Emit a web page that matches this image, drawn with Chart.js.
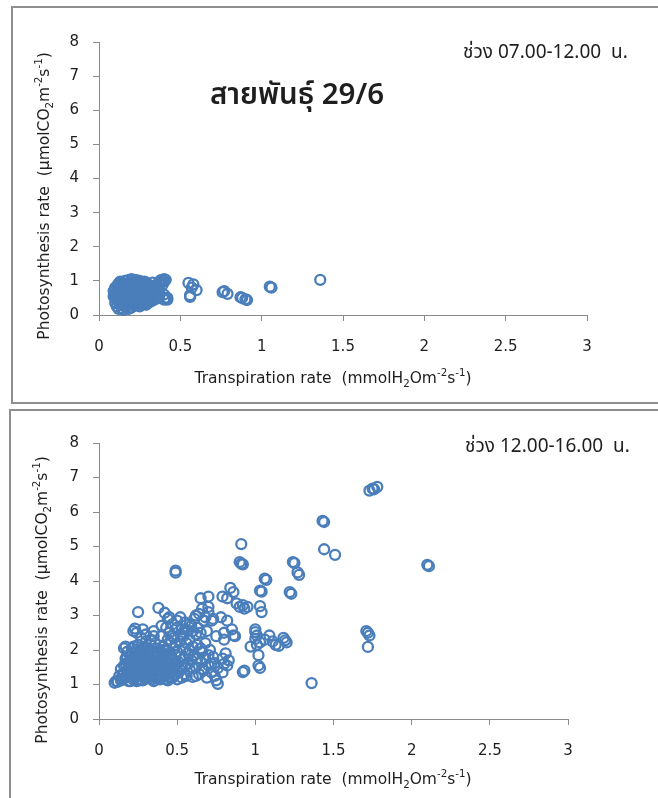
<!DOCTYPE html>
<html>
<head>
<meta charset="utf-8">
<script src="https://cdn.jsdelivr.net/npm/chart.js@4/dist/chart.umd.min.js"></script>
<style>
  html, body { margin: 0; padding: 0; background: #fff; }
  body { width: 658px; height: 798px; position: relative; overflow: hidden; }
  .frame { position: absolute; border: 2px solid #8e8e8e; box-sizing: border-box; }
  #frameTop { left: 11px; top: 6px; width: 700px; height: 398px; }
  #frameBottom { left: 9px; top: 409px; width: 700px; height: 420px; }
  canvas { position: absolute; left: 0; }
  #morning { top: 0; }
  #afternoon { top: 400px; }
</style>
</head>
<body>
<div class="frame" id="frameTop"></div>
<div class="frame" id="frameBottom"></div>
<canvas id="morning" width="658" height="400"></canvas>
<canvas id="afternoon" width="658" height="398"></canvas>
<script>
// Line 29/6 gas-exchange readings
// 07.00-12.00 : transpiration (mmol H2O m-2 s-1) and photosynthesis (umol CO2 m-2 s-1)
const morningTransp = [
  0.10,0.10,0.11,0.11,0.11,0.12,0.12,0.12,0.13,0.13,0.13,0.14,0.14,0.14,0.14,
  0.15,0.15,0.15,0.15,0.16,0.16,0.16,0.16,0.17,0.17,0.17,0.18,0.18,0.18,0.18,
  0.19,0.19,0.19,0.19,0.20,0.20,0.20,0.20,0.21,0.21,0.21,0.22,0.22,0.22,0.23,
  0.23,0.23,0.24,0.24,0.24,0.25,0.25,0.25,0.26,0.26,0.26,0.27,0.27,0.28,0.28,
  0.28,0.29,0.29,0.30,0.30,0.31,0.31,0.32,0.32,0.33,0.33,0.34,0.34,0.35,0.35,
  0.36,0.37,0.38,0.39,0.40,0.41,0.40,0.41,0.42,0.39,
  0.55,0.56,0.57,0.58,0.60,0.56,0.76,0.77,0.79,0.87,0.88,0.91,0.90,1.05,1.06,1.36,
  0.09,0.09,0.10,0.10,0.11,0.12,0.12,0.13,0.13,0.14,0.15,0.15,0.16,0.16,0.17,
  0.17,0.18,0.18,0.19,0.19,0.20,0.20,0.21,0.21,0.22,0.22,0.23,0.23,0.24,0.24,
  0.25,0.25,0.26,0.26,0.27,0.27,0.28,0.28,0.29,0.29,0.30,0.30,0.31,0.31,0.32,
  0.32,0.33,0.34,0.35,0.36,0.37,0.37,0.38,0.40,0.41,0.42,0.40
];
const morningPhoto = [
  0.62,0.48,0.85,0.55,0.70,0.40,0.92,0.63,0.30,0.78,0.52,0.20,0.95,0.66,0.44,
  0.15,0.85,0.58,0.33,1.00,0.72,0.25,0.48,0.90,0.62,0.38,0.18,1.02,0.80,0.55,
  0.30,0.95,0.68,0.45,1.05,0.85,0.60,0.22,0.75,0.40,0.98,0.52,0.88,0.28,0.66,
  1.02,0.35,0.80,0.50,0.92,0.62,0.25,0.42,0.95,0.72,0.55,0.85,0.35,0.65,0.45,
  0.98,0.78,0.30,0.58,0.90,0.70,0.42,0.85,0.52,0.65,0.95,0.45,0.75,0.88,0.60,
  0.50,0.72,1.02,1.00,0.98,1.03,0.60,0.50,0.45,0.88,
  0.94,0.53,0.80,0.90,0.73,0.58,0.67,0.70,0.62,0.52,0.50,0.44,0.46,0.83,0.80,1.03,
  0.55,0.70,0.80,0.35,0.25,0.18,0.75,0.98,0.42,0.82,0.70,0.45,0.90,0.60,0.28,
  0.75,0.42,0.65,0.85,0.20,0.72,0.48,0.88,0.30,0.62,1.00,0.78,0.45,0.65,0.35,
  0.85,1.00,0.45,0.30,0.60,0.75,0.88,0.55,0.42,0.95,0.72,0.35,0.85,0.55,0.65,
  0.40,0.78,0.60,0.48,0.70,0.90,0.55,0.95,1.05,0.48,0.50,0.45
];

// 12.00-16.00
const afternoonTransp = [
  0.12,0.14,0.15,0.16,0.17,0.17,0.18,0.18,0.19,0.19,0.20,0.20,0.21,0.21,0.22,
  0.22,0.23,0.23,0.24,0.24,0.25,0.25,0.26,0.26,0.27,0.27,0.28,0.28,0.29,0.29,
  0.30,0.30,0.31,0.31,0.32,0.32,0.33,0.33,0.34,0.34,0.35,0.35,0.36,0.36,0.37,
  0.37,0.38,0.38,0.39,0.39,0.40,0.40,0.41,0.41,0.42,0.42,0.43,0.43,0.44,0.44,
  0.45,0.45,0.46,0.46,0.47,0.47,0.48,0.48,0.49,0.49,0.50,0.50,
  0.22,0.23,0.25,0.24,0.28,0.30,0.33,0.35,0.38,0.40,0.42,0.43,0.44,0.45,0.47,
  0.48,0.50,0.52,0.53,0.54,0.55,0.57,0.58,0.59,0.60,0.61,0.62,0.63,0.64,0.65,
  0.66,0.67,0.68,0.70,0.69,0.72,0.73,0.75,0.65,0.70,0.70,
  0.51,0.52,0.53,0.54,0.55,0.56,0.57,0.58,0.59,0.60,0.61,0.62,0.63,0.64,0.65,
  0.66,0.67,0.68,0.69,0.70,0.71,0.72,0.73,0.74,0.76,0.75,0.76,0.79,0.80,0.81,
  0.82,0.83,0.79,0.80,0.86,
  0.10,0.11,0.13,0.14,0.16,0.17,
  0.49,0.49,0.91,0.90,0.91,0.92,1.07,1.06,1.04,1.03,1.24,1.25,1.27,1.28,1.22,
  1.23,1.43,1.44,1.44,1.51,1.73,1.75,1.78,1.76,2.10,2.11,1.71,1.72,1.73,1.72,
  1.36,0.79,0.84,0.86,0.82,0.88,0.90,0.93,0.95,0.92,1.03,1.04,1.00,1.00,1.01,
  1.00,1.03,1.01,0.97,1.06,1.09,1.11,1.13,1.15,1.18,1.19,1.20,1.02,1.02,1.03,
  0.92,0.93,0.87,0.82,0.78,0.80,0.85,
  0.15,0.16,0.17,0.18,0.18,0.19,0.20,0.20,0.21,0.21,0.22,0.22,0.23,0.23,0.24,
  0.24,0.25,0.25,0.26,0.26,0.27,0.27,0.28,0.28,0.29,0.29,0.30,0.30,0.31,0.31,
  0.32,0.32,0.33,0.33,0.34,0.34,0.35,0.35,0.36,0.36,0.37,0.37,0.38,0.38,0.39,
  0.39,0.40,0.40,0.41,0.41,0.42,0.42,0.43,0.43,0.44,0.44,0.45,0.45,0.46,0.46,
  0.47,0.47,0.48,0.48,0.49,0.49,0.50,0.50,0.51,0.52,0.53,0.54,0.55,0.56,0.57,
  0.58,0.60,0.62,0.63,0.65,0.66,0.68,0.70,0.72,0.74,0.58,0.60,0.62,0.55,0.52,
  0.50,0.45,0.40,0.35,0.30,0.27
];
const afternoonPhoto = [
  1.08,1.12,1.30,1.55,1.20,1.75,1.40,1.95,1.10,1.62,1.25,1.85,1.48,2.05,1.15,
  1.70,1.35,1.92,1.58,1.10,1.80,2.15,1.28,1.65,1.45,1.98,1.12,1.75,1.55,2.10,
  1.30,1.88,1.62,1.18,1.42,2.00,1.72,1.25,1.55,1.90,1.10,1.38,1.80,2.20,1.60,
  1.22,1.45,1.95,1.70,1.15,1.35,1.85,1.55,2.10,1.25,1.75,1.48,1.98,1.12,1.65,
  1.38,1.88,1.55,2.20,1.20,1.72,1.45,2.05,1.30,1.85,1.60,1.15,
  2.55,2.62,3.10,2.50,2.60,2.45,2.30,2.55,3.22,2.40,3.08,2.65,2.90,2.50,2.75,
  2.35,2.85,2.95,2.60,2.40,2.80,2.55,2.30,2.70,2.10,2.90,2.45,2.65,3.05,2.50,
  3.20,2.85,2.95,3.10,2.55,2.85,2.90,2.40,3.50,3.55,3.25,
  1.35,1.80,1.20,2.05,1.55,1.25,1.90,1.45,1.70,1.22,1.85,1.50,2.15,1.30,1.65,
  1.95,1.40,1.75,1.20,1.55,2.00,1.35,1.80,1.62,1.48,1.12,1.02,1.75,1.60,1.90,
  1.55,1.70,1.35,2.30,2.42,
  1.05,1.10,1.25,1.45,2.05,2.10,
  4.30,4.24,5.07,4.55,4.50,4.48,4.03,4.07,3.69,3.72,4.55,4.52,4.25,4.18,3.68,
  3.63,5.74,5.71,4.92,4.76,6.62,6.68,6.73,6.66,4.47,4.43,2.55,2.50,2.42,2.09,
  1.04,3.55,3.80,3.68,3.50,3.35,3.25,3.20,3.25,3.30,3.27,3.10,2.60,2.52,2.42,
  2.32,2.22,2.15,2.10,2.30,2.42,2.25,2.15,2.12,2.35,2.28,2.22,1.85,1.55,1.48,
  1.36,1.40,2.40,2.85,2.95,2.50,2.60,
  1.15,1.35,1.60,1.25,1.80,1.50,1.10,1.70,1.30,1.90,1.55,2.10,1.20,1.78,1.42,
  2.00,1.25,1.62,1.90,1.12,1.60,1.30,1.95,1.45,1.20,1.80,1.55,2.05,1.38,1.95,
  1.25,1.75,1.52,2.15,1.15,1.70,1.95,1.60,1.40,1.20,1.85,2.05,1.30,1.65,1.50,
  2.00,1.20,1.65,1.35,1.90,1.55,2.00,1.15,1.75,1.45,2.30,1.20,1.65,1.85,1.35,
  1.50,2.40,1.25,1.70,1.55,2.15,1.40,1.95,1.65,2.25,1.50,1.75,1.30,2.20,1.60,
  2.00,1.80,1.25,1.75,2.05,1.45,2.20,1.85,1.60,1.25,2.75,2.55,3.00,2.60,2.45,
  2.65,2.95,2.70,2.40,2.25,2.35
];

const xTickValues = [0, 0.5, 1, 1.5, 2, 2.5, 3];
const yTickValues = [0, 1, 2, 3, 4, 5, 6, 7, 8];

const markerBlue = '#4a7ebb';
const axisGrey = '#8a8a8a';
const textColor = '#1e1e1e';
const latinFont = '"DejaVu Sans", Verdana, sans-serif';
const thaiFont = '"Noto Sans Thai", "Noto Sans", "DejaVu Sans", sans-serif';

function toPoints(xs, ys) {
  return xs.map((x, i) => ({ x: x, y: ys[i] }));
}

// Draws text runs with subscript / superscript parts, centred on (cx, cy)
function drawRich(ctx, parts, cx, cy, size, rotate) {
  ctx.save();
  ctx.translate(cx, cy);
  if (rotate) ctx.rotate(-Math.PI / 2);
  ctx.fillStyle = textColor;
  ctx.textBaseline = 'middle';
  ctx.textAlign = 'left';
  const small = size * 0.66;
  let total = 0;
  parts.forEach(p => {
    ctx.font = (p.k ? small : size) + 'px ' + latinFont;
    p.w = ctx.measureText(p.t).width;
    total += p.w;
  });
  let x = -total / 2;
  parts.forEach(p => {
    ctx.font = (p.k ? small : size) + 'px ' + latinFont;
    const dy = p.k === 'sub' ? size * 0.32 : p.k === 'sup' ? -size * 0.36 : 0;
    ctx.fillText(p.t, x, dy);
    x += p.w;
  });
  ctx.restore();
}

const yTitleParts = [
  { t: 'Photosynthesis rate  (\u00B5molCO' }, { t: '2', k: 'sub' },
  { t: 'm' }, { t: '-2', k: 'sup' }, { t: 's' }, { t: '-1', k: 'sup' }, { t: ')' }
];
const xTitleParts = [
  { t: 'Transpiration rate  (mmolH' }, { t: '2', k: 'sub' },
  { t: 'Om' }, { t: '-2', k: 'sup' }, { t: 's' }, { t: '-1', k: 'sup' }, { t: ')' }
];

const panelText = {
  id: 'panelText',
  afterDraw(chart, args, opts) {
    const ctx = chart.ctx;
    drawRich(ctx, yTitleParts, opts.yTitle[0], opts.yTitle[1], 15.5, true);
    drawRich(ctx, xTitleParts, opts.xTitle[0], opts.xTitle[1], 15.5, false);
    ctx.save();
    ctx.fillStyle = textColor;
    ctx.textBaseline = 'alphabetic';
    ctx.textAlign = 'left';
    opts.labels.forEach(l => {
      ctx.font = l.font;
      ctx.fillText(l.text, l.x, l.y);
    });
    ctx.restore();
  }
};

function buildChart(id, xs, ys, layout) {
  const ctx = document.getElementById(id).getContext('2d');
  return new Chart(ctx, {
    type: 'scatter',
    data: {
      datasets: [{
        data: toPoints(xs, ys),
        pointStyle: 'circle',
        pointRadius: 5,
        pointHoverRadius: 5,
        borderColor: markerBlue,
        backgroundColor: 'rgba(0,0,0,0)',
        borderWidth: 2.3,
        clip: false
      }]
    },
    options: {
      responsive: false,
      animation: false,
      events: [],
      layout: { padding: { left: 0, top: layout.top, right: layout.right, bottom: 0 } },
      plugins: {
        legend: { display: false },
        tooltip: { enabled: false },
        panelText: layout.text
      },
      scales: {
        x: {
          type: 'linear',
          min: 0, max: 3,
          afterBuildTicks: s => { s.ticks = xTickValues.map(v => ({ value: v })); },
          afterFit: s => { s.height = layout.xHeight; },
          grid: { drawOnChartArea: false, drawTicks: true, tickLength: 6, color: axisGrey, lineWidth: 1 },
          border: { color: axisGrey, width: 1 },
          ticks: {
            padding: 17, color: textColor, maxRotation: 0,
            font: { family: latinFont, size: 15 },
            callback: v => String(v)
          }
        },
        y: {
          type: 'linear',
          min: 0, max: 8,
          afterBuildTicks: s => { s.ticks = yTickValues.map(v => ({ value: v })); },
          afterFit: s => { s.width = 99; },
          grid: { drawOnChartArea: false, drawTicks: true, tickLength: 6, color: axisGrey, lineWidth: 1 },
          border: { color: axisGrey, width: 1 },
          ticks: {
            padding: 14, color: textColor,
            font: { family: latinFont, size: 15 },
            callback: v => String(v)
          }
        }
      }
    },
    plugins: [panelText]
  });
}

buildChart('morning', morningTransp, morningPhoto, {
  top: 42, right: 71, xHeight: 85,
  text: {
    yTitle: [45, 196],
    xTitle: [333, 379],
    labels: [
      { text: 'สายพันธุ์ 29/6', x: 210, y: 104, font: '600 29.5px ' + thaiFont },
      { text: 'ช่วง 07.00-12.00  น.', x: 463, y: 58, font: '400 19px ' + thaiFont }
    ]
  }
});

buildChart('afternoon', afternoonTransp, afternoonPhoto, {
  top: 43, right: 90, xHeight: 79,
  text: {
    yTitle: [43, 200],
    xTitle: [333, 380],
    labels: [
      { text: 'ช่วง 12.00-16.00  น.', x: 465, y: 52, font: '400 19px ' + thaiFont }
    ]
  }
});
</script>
</body>
</html>
